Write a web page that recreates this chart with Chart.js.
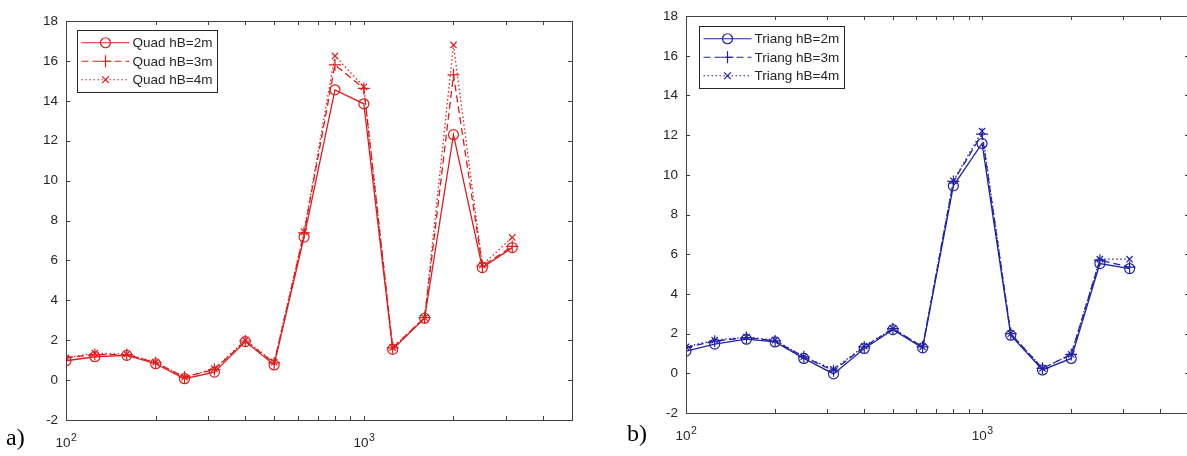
<!DOCTYPE html>
<html>
<head>
<meta charset="utf-8">
<script src="https://cdn.jsdelivr.net/npm/chart.js@4/dist/chart.umd.min.js"></script>
<style>
  body { margin: 0; background: #fff; overflow: hidden; width: 1187px; height: 456px; position: relative; }
  .panel { position: absolute; top: 0; }
  .tag { position: absolute; font-family: 'Liberation Serif', 'Times New Roman', serif; font-size: 24px; color: #000; }
</style>
</head>
<body>
<div class="panel" style="left:0"><canvas id="quadChart" width="600" height="456"></canvas></div>
<div class="panel" style="left:600px"><canvas id="triangChart" width="600" height="456"></canvas></div>
<div class="tag" style="left:6px; top:424px">a)</div>
<div class="tag" style="left:627px; top:420px">b)</div>

<script>
// 1/3 octave band centre frequencies (Hz)
const freqs = [100, 125, 160, 200, 250, 315, 400, 500, 630, 800, 1000, 1250, 1600, 2000, 2500, 3150];

// a) quadratic diffusers
const quad2m = [0.97, 1.17, 1.24, 0.82, 0.07, 0.4, 1.93, 0.76, 7.17, 14.55, 13.85, 1.54, 3.1, 12.3, 5.64, 6.64];
const quad3m = [1.12, 1.28, 1.28, 0.87, 0.15, 0.53, 1.96, 0.86, 7.38, 15.8, 14.62, 1.62, 3.13, 15.3, 5.72, 6.7];
const quad4m = [1.12, 1.35, 1.3, 0.9, 0.15, 0.57, 2.0, 0.9, 7.44, 16.25, 14.7, 1.63, 3.13, 16.8, 5.77, 7.15];

// b) triangular diffusers
const triang2m = [1.12, 1.47, 1.72, 1.58, 0.75, -0.03, 1.25, 2.2, 1.28, 9.45, 11.58, 1.92, 0.17, 0.75, 5.53, 5.28];
const triang3m = [1.3, 1.62, 1.8, 1.63, 0.83, 0.13, 1.33, 2.25, 1.33, 9.67, 12.05, 2.0, 0.25, 0.95, 5.7, 5.35];
const triang4m = [1.33, 1.67, 1.83, 1.67, 0.83, 0.2, 1.37, 2.25, 1.33, 9.7, 12.2, 2.0, 0.25, 0.95, 5.75, 5.75];

// axis ticks (x labels are 10^exponent)
const xTickValues = [100, 200, 300, 400, 500, 600, 700, 800, 900, 1000, 2000, 3000, 4000, 5000];
const xTickLabels = { 100: ['10', '2'], 1000: ['10', '3'] };
const yMin = -2, yMax = 18, yStep = 2;

const axisColor = '#404040';
const textColor = '#262626';
const fontFamily = "'Liberation Sans', Arial, sans-serif";

function toPoints(vals) {
    return freqs.map((f, i) => ({ x: f, y: vals[i] }));
}

function makeDataset(label, vals, color, dash, marker) {
    return {
        label: label,
        data: toPoints(vals),
        borderColor: color,
        borderWidth: 1.3,
        borderDash: dash,
        backgroundColor: 'rgba(0,0,0,0)',
        pointStyle: marker,
        pointRadius: marker === 'circle' ? 5 : (marker === 'cross' ? 6 : 4.5),
        pointBorderWidth: 1.2,
        pointBorderColor: color,
        pointBackgroundColor: 'rgba(0,0,0,0)',
        fill: false,
        tension: 0
    };
}

function drawMarker(ctx, style, x, y, r) {
    ctx.beginPath();
    if (style === 'circle') {
        ctx.arc(x, y, r, 0, Math.PI * 2);
    } else if (style === 'cross') {
        ctx.moveTo(x - r, y); ctx.lineTo(x + r, y);
        ctx.moveTo(x, y - r); ctx.lineTo(x, y + r);
    } else {
        const d = r * 0.75;
        ctx.moveTo(x - d, y - d); ctx.lineTo(x + d, y + d);
        ctx.moveTo(x - d, y + d); ctx.lineTo(x + d, y - d);
    }
    ctx.stroke();
}

// box, inward ticks on all sides, power-of-ten labels and the legend inside the axes
const matlabAxes = {
    id: 'matlabAxes',
    afterDraw(chart) {
        const ctx = chart.ctx;
        const a = chart.chartArea;
        const xs = chart.scales.x;
        const tl = 4;
        ctx.save();
        ctx.strokeStyle = axisColor;
        ctx.lineWidth = 1;
        ctx.setLineDash([]);
        ctx.strokeRect(Math.round(a.left) + 0.5, Math.round(a.top) + 0.5,
                       Math.round(a.right - a.left), Math.round(a.bottom - a.top));
        ctx.beginPath();
        xs.ticks.forEach(t => {
            const px = Math.round(xs.getPixelForValue(t.value)) + 0.5;
            ctx.moveTo(px, a.bottom); ctx.lineTo(px, a.bottom - tl);
            ctx.moveTo(px, a.top); ctx.lineTo(px, a.top + tl);
        });
        chart.scales.y.ticks.forEach(t => {
            const py = Math.round(chart.scales.y.getPixelForValue(t.value)) + 0.5;
            ctx.moveTo(a.left, py); ctx.lineTo(a.left + tl, py);
            ctx.moveTo(a.right, py); ctx.lineTo(a.right - tl, py);
        });
        ctx.stroke();

        // x labels 10^n with a raised exponent
        ctx.fillStyle = textColor;
        ctx.textBaseline = 'alphabetic';
        ctx.textAlign = 'left';
        Object.keys(xTickLabels).forEach(k => {
            const [base, exp] = xTickLabels[k];
            const px = xs.getPixelForValue(Number(k));
            ctx.font = '13.5px ' + fontFamily;
            const wb = ctx.measureText(base).width;
            ctx.font = '10.5px ' + fontFamily;
            const we = ctx.measureText(exp).width;
            const x0 = px - (wb + we) / 2;
            const base_y = a.bottom + 26.5;
            ctx.font = '13.5px ' + fontFamily;
            ctx.fillText(base, x0, base_y);
            ctx.font = '10.5px ' + fontFamily;
            ctx.fillText(exp, x0 + wb + 0.5, base_y - 6);
        });

        // legend
        const opts = chart.options.plugins.matlabAxes;
        const ds = chart.data.datasets;
        ctx.font = '13.5px ' + fontFamily;
        const textW = Math.max(...ds.map(d => ctx.measureText(d.label).width));
        const bx = Math.round(a.left + opts.dx) + 0.5;
        const by = Math.round(a.top + opts.dy) + 0.5;
        const rowH = 18.5;
        const bw = Math.round(opts.textOffset + textW + 5);
        const bh = Math.round(rowH * ds.length + 6);
        ctx.fillStyle = '#fff';
        ctx.fillRect(bx, by, bw, bh);
        ctx.strokeStyle = '#262626';
        ctx.lineWidth = 1;
        ctx.strokeRect(bx, by, bw, bh);
        ds.forEach((d, i) => {
            const ry = by + 3 + rowH * (i + 0.5);
            ctx.strokeStyle = d.borderColor;
            ctx.lineWidth = 1.2;
            ctx.setLineDash(d.borderDash);
            ctx.beginPath();
            ctx.moveTo(bx + 4, ry); ctx.lineTo(bx + opts.textOffset - 3, ry);
            ctx.stroke();
            ctx.setLineDash([]);
            drawMarker(ctx, d.pointStyle, bx + (opts.textOffset + 1) / 2, ry, d.pointRadius);
            ctx.fillStyle = textColor;
            ctx.textBaseline = 'middle';
            ctx.textAlign = 'left';
            ctx.fillText(d.label, bx + opts.textOffset, ry + 1);
        });
        ctx.restore();
    }
};

function makeChart(id, datasets, layout, legendPos) {
    return new Chart(document.getElementById(id), {
        type: 'line',
        data: { datasets: datasets },
        options: {
            responsive: false,
            animation: false,
            events: [],
            layout: { padding: { top: layout.top, right: layout.right, left: 0, bottom: 0 } },
            plugins: {
                legend: { display: false },
                tooltip: { enabled: false },
                matlabAxes: legendPos
            },
            scales: {
                x: {
                    type: 'logarithmic',
                    min: 100,
                    max: 5000,
                    grid: { display: false, drawTicks: false },
                    border: { display: false },
                    afterBuildTicks: scale => {
                        scale.ticks = xTickValues.map(v => ({ value: v }));
                    },
                    afterFit: scale => { scale.height = layout.xHeight; },
                    ticks: {
                        autoSkip: false,
                        maxRotation: 0,
                        callback: () => ''
                    }
                },
                y: {
                    min: yMin,
                    max: yMax,
                    grid: { display: false, drawTicks: false },
                    border: { display: false },
                    afterFit: scale => { scale.width = layout.yWidth; },
                    ticks: {
                        stepSize: yStep,
                        padding: 8,
                        color: textColor,
                        font: { family: fontFamily, size: 13.5 }
                    }
                }
            }
        },
        plugins: [matlabAxes]
    });
}

const red = '#e01c1c';
const blue = '#2222a6';

makeChart('quadChart', [
    makeDataset('Quad hB=2m', quad2m, red, [], 'circle'),
    makeDataset('Quad hB=3m', quad3m, red, [7, 4], 'cross'),
    makeDataset('Quad hB=4m', quad4m, red, [1.5, 2.5], 'crossRot')
], { top: 21, right: 28, xHeight: 36, yWidth: 66 }, { dx: 11, dy: 9, textOffset: 55 });

makeChart('triangChart', [
    makeDataset('Triang hB=2m', triang2m, blue, [], 'circle'),
    makeDataset('Triang hB=3m', triang3m, blue, [7, 4], 'cross'),
    makeDataset('Triang hB=4m', triang4m, blue, [1.5, 2.5], 'crossRot')
], { top: 15, right: 11, xHeight: 43, yWidth: 86 }, { dx: 13, dy: 10, textOffset: 55 });
</script>
</body>
</html>
